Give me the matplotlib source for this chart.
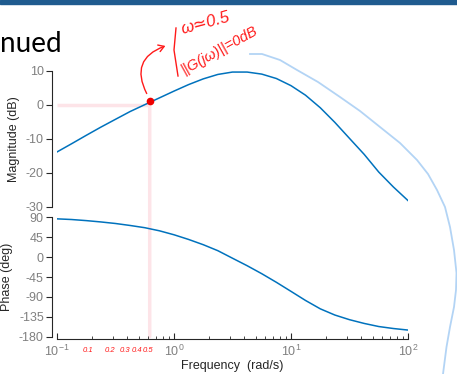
import numpy as np
import matplotlib
matplotlib.use("Agg")
import matplotlib.pyplot as plt
from matplotlib.patches import FancyArrowPatch, ConnectionPatch
from matplotlib.lines import Line2D

# Bode data
mag_w = [0.1, 0.133, 0.178, 0.237, 0.316, 0.422, 0.562, 0.75, 1.0, 1.33,
         1.78, 2.37, 3.16, 4.22, 5.62, 7.5, 10, 13.3, 17.8, 23.7,
         31.6, 42.2, 56.2, 75, 100]
mag_db = [-13.9, -11.5, -9.0, -6.6, -4.3, -2.0, 0.0, 2.0, 4.0, 5.9,
          7.6, 8.9, 9.6, 9.6, 9.0, 7.7, 5.6, 2.8, -0.9, -5.2,
          -9.9, -14.6, -19.8, -24.2, -28.2]

ph_w = mag_w
ph_deg = [86.5, 85.0, 82.5, 79.5, 76.0, 71.5, 66.5, 59.5, 50.5, 40.0,
          28.0, 14.5, -2.5, -19.5, -37.5, -57.0, -77.5, -98.0, -117.0, -131.0,
          -141.5, -150.0, -157.0, -161.5, -165.0]

# crossover point marked by hand
w_c = 0.62
db_c = 1.0

mag_ticks = [-30, -20, -10, 0, 10]
ph_ticks = [-180, -135, -90, -45, 0, 45, 90]

hand_labels = ['0.1', '0.2', '0.3', '0.4', '0.5']
hand_label_x = [88, 110, 125, 137, 148]   # pixel x of the hand-written labels

# light blue pen stroke on the right (figure pixels)
stroke_x = [250, 262, 280, 297, 318, 340, 360, 380, 400, 417, 428, 437, 445, 450, 454, 456.5, 456, 454, 450, 446.5, 443]
stroke_y = [54, 54, 60, 70, 82, 97, 111, 127, 143, 160, 174, 190, 207, 227, 250, 273, 290, 307, 327, 347, 374]

W, H = 457, 374
LINE = '#0072BD'
GRAY = '#808080'
DARK = '#262626'
PINK = '#fde4e8'

plt.rcParams['font.family'] = ['Liberation Sans', 'DejaVu Sans']
plt.rcParams['mathtext.default'] = 'regular'
plt.rcParams['axes.unicode_minus'] = False

fig = plt.figure(figsize=(W / 100, H / 100), dpi=100)

def px(x, y):
    return x / W, 1 - y / H

left = 57 / W
width = 351 / W
ax1 = fig.add_axes([left, 1 - 206.7 / H, width, 136 / H])
ax2 = fig.add_axes([left, 1 - 336.7 / H, width, 119.4 / H])

for ax in (ax1, ax2):
    ax.set_xscale('log')
    ax.set_xlim(0.1, 100)
    ax.spines['top'].set_visible(False)
    ax.spines['right'].set_visible(False)
    ax.spines['left'].set_position(('outward', 3.5))
    ax.spines['left'].set_color(DARK)
    ax.tick_params(axis='y', direction='out', length=4, width=0.8,
                   colors=DARK, labelcolor=GRAY, labelsize=9, pad=2)
    ax.patch.set_visible(False)

# magnitude
ax1.plot(mag_w, mag_db, color=LINE, lw=1.1)
ax1.set_ylim(-30, 10)
ax1.set_yticks(mag_ticks)
ax1.spines['bottom'].set_visible(False)
ax1.tick_params(axis='x', which='both', bottom=False, labelbottom=False)
ax1.set_ylabel('Magnitude (dB)', fontsize=9, color=DARK, labelpad=4)
ax1.plot([0.1, w_c], [0, 0], color=PINK, lw=2.5, zorder=0, solid_capstyle='butt')
ax1.plot([w_c], [db_c], 'o', color='#ee0000', ms=4.5, zorder=5)

# phase
ax2.plot(ph_w, ph_deg, color=LINE, lw=1.1)
ax2.set_ylim(-180, 90)
ax2.set_yticks(ph_ticks)
ax2.spines['bottom'].set_position(('outward', 2))
ax2.spines['bottom'].set_color(DARK)
ax2.tick_params(axis='x', which='major', direction='in', length=4, width=0.8,
                colors=DARK, labelcolor=GRAY, labelsize=9, pad=3)
ax2.tick_params(axis='x', which='minor', direction='in', length=2.5, width=0.6,
                colors=DARK)
ax2.set_ylabel('Phase (deg)', fontsize=9, color=DARK, labelpad=4)
ax2.set_xlabel('Frequency  (rad/s)', fontsize=9, color=DARK, labelpad=1)

# pink vertical guide through both axes
con = ConnectionPatch(xyA=(w_c, db_c), coordsA=ax1.transData,
                      xyB=(w_c, -180), coordsB=ax2.transData,
                      color=PINK, lw=2.5, zorder=0)
fig.add_artist(con)

# top banner and title fragment
fig.add_artist(plt.Rectangle((0, 1 - 3.5 / H), 1, 3.5 / H, color='#1f5b8f',
                             transform=fig.transFigure))
fig.text(*px(0, 52), 'nued', fontsize=20,
         family=['Liberation Sans Narrow', 'Lato'], color='black',
         ha='left', va='baseline')

# hand-written notes
RED = '#ff1a1a'
fig.text(*px(182, 34), 'ω≃0.5', fontsize=12, color=RED, rotation=15,
         ha='left', va='baseline', style='italic', rotation_mode='anchor')
fig.text(*px(184, 74), '||G(jω)||=0dB', fontsize=10.5, color=RED, rotation=29,
         ha='left', va='baseline', style='italic', rotation_mode='anchor')
fig.add_artist(Line2D([px(176, 28)[0], px(174, 50)[0], px(178, 76)[0]],
                      [px(176, 28)[1], px(174, 50)[1], px(178, 76)[1]],
                      color=RED, lw=1.0))
arr = FancyArrowPatch(px(148, 96), px(168, 45), transform=fig.transFigure,
                      connectionstyle='arc3,rad=-0.6',
                      arrowstyle='->,head_length=4,head_width=2.5',
                      color=RED, lw=1.0, mutation_scale=1)
fig.add_artist(arr)
for lab, x in zip(hand_labels, hand_label_x):
    fig.text(*px(x, 350), lab, fontsize=5.5, color=RED, ha='center',
             va='center', style='italic')

fig.add_artist(Line2D([x / W for x in stroke_x], [1 - y / H for y in stroke_y],
                      color='#b3d4f5', lw=1.3))

fig.savefig('out.png', dpi=100)
